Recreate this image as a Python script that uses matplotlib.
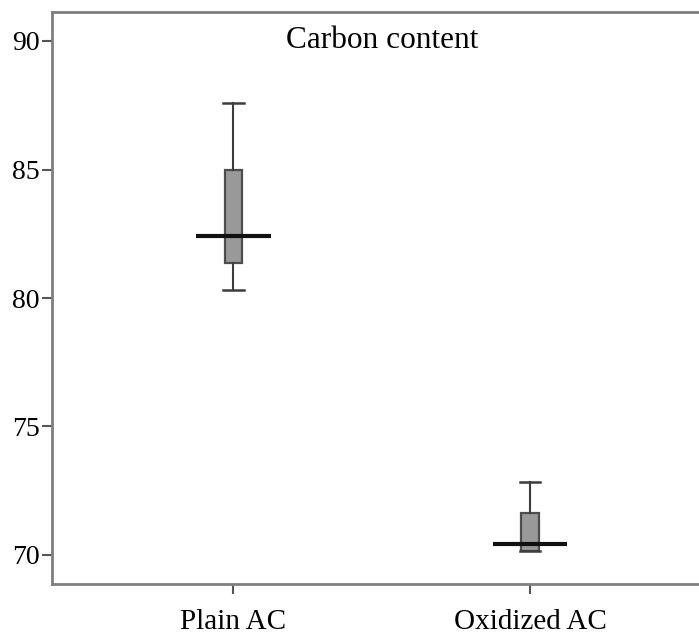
import matplotlib.pyplot as plt
import matplotlib as mpl

mpl.rcParams.update({'font.family': 'Liberation Serif', 'font.size': 20})

groups = ['Plain AC', 'Oxidized AC']
whislo = [80.3, 70.15]
q1 = [81.37, 70.15]
med = [82.4, 70.41]
q3 = [85.0, 71.64]
whishi = [87.57, 72.85]

stats = []
for i, name in enumerate(groups):
    stats.append({'label': name, 'whislo': whislo[i], 'q1': q1[i], 'med': med[i],
                  'q3': q3[i], 'whishi': whishi[i], 'fliers': []})

pos = [1, 2]
fig = plt.figure(figsize=(6.99, 6.38), dpi=100)
ax = fig.add_axes([52/699, 1 - 584/638, 1 - 52/699, (584 - 12)/638])

ax.bxp(stats, positions=pos, widths=0.06, capwidths=0.07, patch_artist=True,
       boxprops=dict(facecolor='#999999', edgecolor='#4d4d4d', linewidth=1.6),
       whiskerprops=dict(color='#3d3d3d', linewidth=1.5),
       capprops=dict(color='#3d3d3d', linewidth=1.8),
       medianprops=dict(linewidth=0))
ax.hlines(med, [p - 0.125 for p in pos], [p + 0.125 for p in pos],
          colors='#111111', linewidth=3, zorder=5)

ax.set_xlim(1 - (233.5 - 52) / 296.5, 2 + (699 - 530) / 296.5)
ax.set_ylim(70 - 29 / 25.7, 90 + 29 / 25.7)
ax.set_yticks([70, 75, 80, 85, 90])
ax.set_xticks(pos)
ax.set_xticklabels(groups, fontsize=21)

for s in ['left', 'bottom', 'top']:
    ax.spines[s].set_color('#7f7f7f')
    ax.spines[s].set_linewidth(2)
ax.spines['right'].set_visible(False)
ax.tick_params(length=7, width=1.5, color='#555555', pad=2)
ax.tick_params(axis='x', pad=11)

ax.text(0.51, 0.95, 'Carbon content', transform=ax.transAxes,
        ha='center', va='center', fontsize=22.5)

fig.savefig('out.png', dpi=100)
